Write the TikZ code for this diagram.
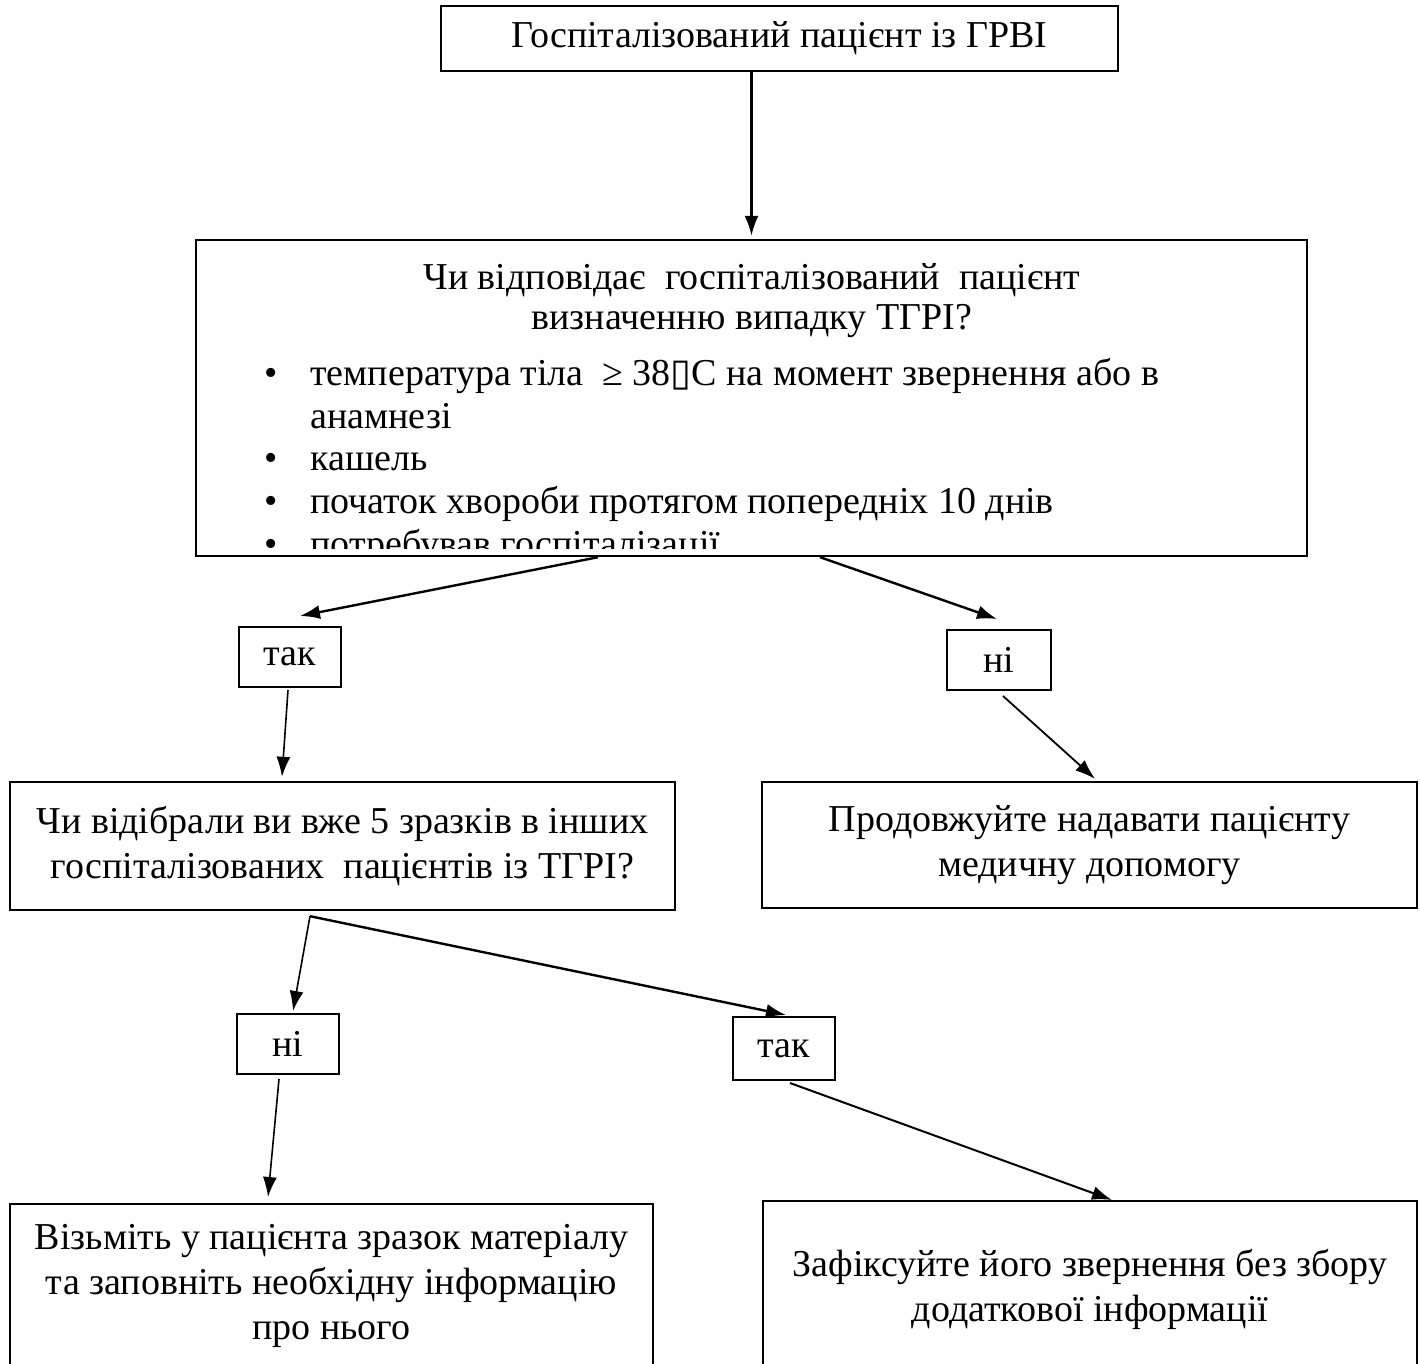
\documentclass[tikz,border=0pt]{standalone}
\usepackage{fontspec}
\setmainfont{Liberation Serif}
\newfontfamily\boxglyph{DejaVu Sans}
\usetikzlibrary{calc,arrows.meta}

\begin{document}
\begin{tikzpicture}[x=0.5pt,y=-0.5pt]
      \tikzstyle{block} = [draw,line width=1.2pt,align=center,inner sep=0pt,font=\fontsize{19}{22.5}\selectfont]
      \tikzstyle{answer} = [draw,line width=1pt,minimum width=51pt,minimum height=30pt,inner sep=0pt,font=\fontsize{19}{22}\selectfont]
      \tikzstyle{arrow} = [-{Latex[length=10pt,width=7pt]},line width=1.2pt]
      %
      \useasboundingbox (0,0) rectangle (1420,1364);
      \clip (0,0) rectangle (1420,1364);

      % First question.
      \node[block,minimum width=338.5pt,minimum height=32.5pt] (patient) at (779.5,38.5) {Госпіталізований пацієнт із ГРВІ};
      \node[block,minimum width=555.5pt,minimum height=158pt] (check) at (751.5,398) {};
      \node[align=center,inner sep=0pt,font=\fontsize{19}{20}\selectfont] (question) at (752,301)
        {Чи відповідає\ \ госпіталізований\ \ пацієнт\\визначенню випадку ТГРІ?};
      \begin{scope}
        \clip (check.north west) rectangle ($(check.south east)+(0,-9)$);
        \node[anchor=north west,inner sep=0pt,font=\fontsize{19}{21.4}\selectfont] (signs) at (264,355) {%
          \begin{tabular}{@{}p{23pt}@{}l@{}}
            \textbullet & температура тіла\ \ ≥ 38{\boxglyph ▯}C на момент звернення або в\\
                        & анамнезі\\
            \textbullet & кашель\\
            \textbullet & початок хвороби протягом попередніх 10 днів\\
            \textbullet & потребував госпіталізації
          \end{tabular}};
      \end{scope}

      % Answers to the first question.
      \node[answer] (yes1) at (290,657) {так};
      \node[answer,minimum width=52pt] (no1) at (999,660) {ні};

      % Second question.
      \node[block,minimum width=332.5pt,minimum height=64pt] (taken) at (342.5,846) {Чи відібрали ви вже 5 зразків в інших\\госпіталізованих\ \ пацієнтів із ТГРІ?};
      \node[block,minimum width=327.5pt,minimum height=63pt] (careon) at (1089.5,845) {Продовжуйте надавати пацієнту\\медичну допомогу};

      % Answers to the second question.
      \node[answer] (no2) at (288,1044) {ні};
      \node[answer,minimum height=31.5pt] (yes2) at (784,1048.5) {так};

      % Last row.
      \node[block,anchor=north,minimum width=321.5pt,minimum height=82pt] (sample) at (331.5,1203) {Візьміть у пацієнта зразок матеріалу\\та заповніть необхідну інформацію\\про нього};
      \node[block,anchor=north,minimum width=327pt,minimum height=88pt] (record) at (1090,1200) {Зафіксуйте його звернення без збору\\додаткової інформації};

      % Draw arrows.
      \coordinate (fork) at ($(taken.south)+(-32.5,5)$);
      \draw[arrow] (check.north |- patient.south) -- ($(check.north)+(0,-3)$);
      \draw[arrow] ($(check.south)+(-153.5,0)$) -- ($(yes1.north)+(10,-10)$);
      \draw[arrow] ($(check.south)+(68.5,0)$) -- ($(no1.north)+(-2,-10)$);
      \draw[arrow,line width=0.8pt] ($(yes1.south)+(-2,2)$) -- ($(taken.north)+(-60.5,-4)$);
      \draw[arrow,line width=0.9pt] ($(no1.south)+(4,5)$) -- ($(careon.north)+(5.5,-2)$);
      \draw[arrow,line width=0.8pt] (fork) -- ($(no2.north)+(5,-2)$);
      \draw[arrow] (fork) -- ($(yes2.north)+(2,-1)$);
      \draw[arrow,line width=0.8pt] ($(no2.south)+(-9,4)$) -- ($(sample.north)+(-63.5,-6)$);
      \draw[arrow,line width=1pt] ($(yes2.south)+(6,2)$) -- ($(record.north)+(22,0)$);
\end{tikzpicture}
\end{document}
